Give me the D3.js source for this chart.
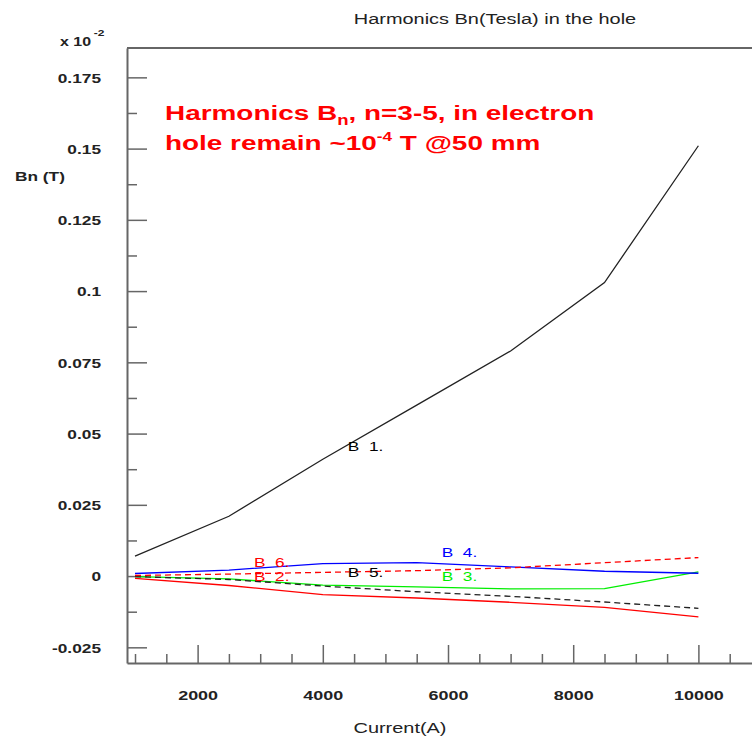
<!DOCTYPE html>
<html>
<head>
<meta charset="utf-8">
<script src="https://cdn.jsdelivr.net/npm/d3@7"></script>
<style>
  html, body { margin: 0; padding: 0; background: #fff; }
  svg { display: block; }
  text { font-family: "Liberation Sans", Arial, Helvetica, sans-serif; }
</style>
</head>
<body>
<svg id="chart" width="752" height="736"></svg>
<script>
// ---------- data ----------
const currents = [1000, 2500, 4000, 5500, 7000, 8500, 10000];
const b1 = [0.007, 0.021, 0.041, 0.060, 0.079, 0.103, 0.151];
const b2 = [-0.0008, -0.0033, -0.0065, -0.0077, -0.0092, -0.0110, -0.0143];
const b3 = [-0.0002, -0.0010, -0.0032, -0.0038, -0.0045, -0.0044, 0.0015];
const b4 = [0.0009, 0.0021, 0.0044, 0.0047, 0.0032, 0.0017, 0.0010];
const b5 = [-0.0002, -0.0012, -0.0035, -0.0055, -0.0071, -0.0091, -0.0113];
const b6 = [0.0002, 0.0007, 0.0013, 0.0019, 0.0029, 0.0047, 0.0065];

const seriesNames = ["B  1.", "B  2.", "B  3.", "B  4.", "B  5.", "B  6."];
const seriesValues = [b1, b2, b3, b4, b5, b6];
const seriesColors = ["#000000", "#ff0000", "#00ee00", "#0000ff", "#000000", "#ff0000"];
const seriesDash = [null, null, null, null, "6 4", "6 4"];
// label anchor points (data units)
const labelX = [4400, 2900, 5900, 5900, 4400, 2900];
const labelY = [0.0440, -0.0017, -0.0019, 0.0068, -0.0002, 0.0031];

const xMajor = [2000, 4000, 6000, 8000, 10000];
const xMajorLabels = ["2000", "4000", "6000", "8000", "10000"];
const yMajor = [-0.025, 0, 0.025, 0.05, 0.075, 0.1, 0.125, 0.15, 0.175];
const yMajorLabels = ["-0.025", "0", "0.025", "0.05", "0.075", "0.1", "0.125", "0.15", "0.175"];

const titleText = "Harmonics Bn(Tesla) in the hole";
const xTitle = "Current(A)";
const yTitle = "Bn (T)";

// ---------- layout ----------
const SX = 1.33; // horizontal stretch of the original rendering
const svg = d3.select("#chart");
const mLeft = 127, mTop = 48, mBottom = 663, mRight = 761;

const x = d3.scaleLinear().domain([872, 11000]).range([mLeft, mRight]);
const y = d3.scaleLinear().domain([-0.0305, 0.1853]).range([mBottom, mTop]);

const xMinor = d3.range(1000, 11001, 500).filter(v => !xMajor.includes(v));
const yMinor = yMajor.map(v => +(v + 0.0125).toFixed(4)).filter(v => v > -0.0305 && v < 0.1853);

const axisColor = "#666";

// minor x ticks
svg.append("g").attr("transform", `translate(0,${mBottom})`)
  .call(d3.axisBottom(x).tickValues(xMinor).tickSize(-9).tickSizeOuter(0).tickFormat(""))
  .call(g => g.select(".domain").remove())
  .call(g => g.selectAll("line").attr("stroke", axisColor).attr("stroke-width", 1.5));
// major x ticks + labels
const gx = svg.append("g").attr("transform", `translate(0,${mBottom})`)
  .call(d3.axisBottom(x).tickValues(xMajor).tickSize(-18).tickSizeOuter(0)
    .tickFormat((d, i) => xMajorLabels[i]));
gx.select(".domain").attr("stroke", axisColor).attr("stroke-width", 2);
gx.selectAll("line").attr("stroke", axisColor).attr("stroke-width", 1.5);
gx.selectAll("text").attr("y", 0).attr("dy", 0)
  .attr("transform", `translate(0,37) scale(${SX},1)`)
  .attr("fill", "#222").attr("font-size", 13.5).attr("font-weight", "bold");

// minor y ticks
svg.append("g").attr("transform", `translate(${mLeft},0)`)
  .call(d3.axisLeft(y).tickValues(yMinor).tickSize(-10).tickSizeOuter(0).tickFormat(""))
  .call(g => g.select(".domain").remove())
  .call(g => g.selectAll("line").attr("stroke", axisColor).attr("stroke-width", 1.5));
// major y ticks + labels
const gy = svg.append("g").attr("transform", `translate(${mLeft},0)`)
  .call(d3.axisLeft(y).tickValues(yMajor).tickSize(-20).tickSizeOuter(0)
    .tickFormat((d, i) => yMajorLabels[i]));
gy.select(".domain").attr("stroke", axisColor).attr("stroke-width", 2);
gy.selectAll("line").attr("stroke", axisColor).attr("stroke-width", 1.5);
gy.selectAll("text").attr("x", 0).attr("dy", "0.36em")
  .attr("transform", `translate(-26,0) scale(${SX},1)`)
  .attr("fill", "#222").attr("font-size", 13).attr("font-weight", "bold");

// top / right frame
svg.append("line").attr("x1", mLeft).attr("x2", mRight).attr("y1", mTop).attr("y2", mTop)
  .attr("stroke", axisColor).attr("stroke-width", 2);
svg.append("line").attr("x1", mRight).attr("x2", mRight).attr("y1", mTop).attr("y2", mBottom)
  .attr("stroke", axisColor).attr("stroke-width", 2);

// ---------- lines ----------
const line = d3.line().x(d => x(d[0])).y(d => y(d[1]));
seriesValues.forEach((vals, i) => {
  svg.append("path")
    .datum(currents.map((c, j) => [c, vals[j]]))
    .attr("d", line)
    .attr("fill", "none")
    .attr("stroke", seriesColors[i] === "#000000" ? "#222" : seriesColors[i])
    .attr("stroke-width", 1.3)
    .attr("stroke-dasharray", seriesDash[i]);
});

// series labels
seriesNames.forEach((name, i) => {
  svg.append("text")
    .attr("transform", `translate(${x(labelX[i])},${y(labelY[i])}) scale(${SX},1)`)
    .attr("xml:space", "preserve")
    .style("white-space", "pre")
    .attr("font-size", 13)
    .attr("fill", seriesColors[i])
    .text(name);
});

// ---------- texts ----------
function stretchedText(tx, ty, opts) {
  return svg.append("text")
    .attr("transform", `translate(${tx},${ty}) scale(${SX},1)`)
    .attr("font-size", opts.size)
    .attr("font-weight", opts.weight || "normal")
    .attr("fill", opts.fill || "#222")
    .attr("text-anchor", opts.anchor || "start");
}

stretchedText(495, 24, {size: 15, anchor: "middle"}).text(titleText);
stretchedText(400, 733, {size: 15, anchor: "middle"}).text(xTitle);
stretchedText(15, 181, {size: 13, weight: "bold"}).text(yTitle);

const mult = stretchedText(60, 46, {size: 12, weight: "bold"});
mult.append("tspan").text("x 10");
mult.append("tspan").attr("dx", 2).attr("dy", -10).attr("font-size", 9).text("-2");

// annotation
const ann1 = stretchedText(165, 120, {size: 21, weight: "bold", fill: "#ff0000"});
ann1.append("tspan").text("Harmonics B");
ann1.append("tspan").attr("font-size", 14).attr("dy", 5).text("n");
ann1.append("tspan").attr("dy", -5).text(", n=3-5, in electron");

const ann2 = stretchedText(165, 150, {size: 21, weight: "bold", fill: "#ff0000"});
ann2.append("tspan").text("hole remain ~10");
ann2.append("tspan").attr("font-size", 13).attr("dy", -9).text("-4");
ann2.append("tspan").attr("dy", 9).text(" T @50 mm");
</script>
</body>
</html>
